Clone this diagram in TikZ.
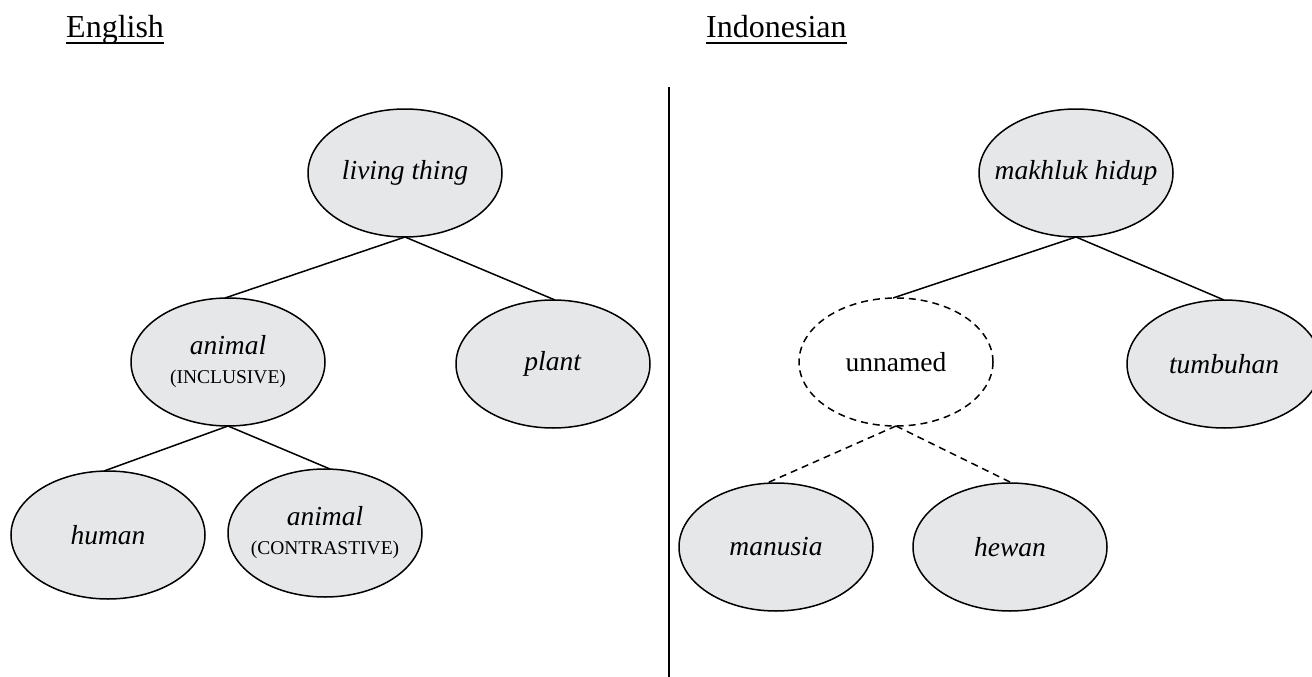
\documentclass[tikz,border=0pt]{standalone}
\usepackage{fontspec}
\setmainfont{Liberation Serif}
\usetikzlibrary{shapes.geometric}
\definecolor{ellfill}{RGB}{230,231,233}
\tikzset{
  concept/.style={ellipse, draw=black, line width=1.5pt, fill=ellfill,
    minimum width=194pt, minimum height=128pt, inner xsep=-25pt, inner ysep=0pt, outer sep=0pt,
    align=center, font=\fontsize{27.5}{29}\selectfont},
  hidden/.style={concept, fill=none, dash pattern=on 7pt off 5pt},
  link/.style={line width=1.5pt},
  dlink/.style={line width=1.5pt, dash pattern=on 7pt off 5pt},
  heading/.style={inner sep=0pt, anchor=base west, font=\fontsize{32}{36}\selectfont},
}
\newcommand{\smc}[1]{{\fontsize{19.5}{29}\selectfont #1}}
\begin{document}
\begin{tikzpicture}[x=1pt,y=-1pt]
\useasboundingbox (0,0) rectangle (1312,677);
% headings
\node[heading] (eng) at (66,38) {English};
\node[heading] (ind) at (706,38) {Indonesian};
\draw[line width=1.2pt] ([yshift=-5pt]eng.base west) -- ([yshift=-5pt]eng.base east);
\draw[line width=1.2pt] ([yshift=-5pt]ind.base west) -- ([yshift=-5pt]ind.base east);
% divider
\coordinate (dtop) at (669,87);
\coordinate (dbot) at (669,677);
\draw[line width=1.4pt] (dtop) -- (dbot);
% English tree
\node[concept] (lt) at (405,173) {\textit{living thing}};
\node[concept] (an) at (228,362) {\textit{animal}\\\smc{(INCLUSIVE)}};
\node[concept] (pl) at (553,364) {\textit{plant}};
\node[concept] (hu) at (108,535) {\textit{human}};
\node[concept] (ac) at (325,533) {\textit{animal}\\\smc{(CONTRASTIVE)}};
\draw[link] (lt.south) -- ([xshift=-3pt]an.north);
\draw[link] (lt.south) -- ([xshift=2pt]pl.north);
\draw[link] (an.south) -- ([xshift=-4pt]hu.north);
\draw[link] (an.south) -- ([xshift=5pt]ac.north);
% Indonesian tree
\node[concept] (mh) at (1076,173) {\textit{makhluk hidup}};
\node[hidden] (un) at (896,362) {unnamed};
\node[concept] (tu) at (1224,364) {\textit{tumbuhan}};
\node[concept] (ma) at (776,547) {\textit{manusia}};
\node[concept] (he) at (1010,547) {\textit{hewan}};
\draw[link] (mh.south) -- ([xshift=-3pt]un.north);
\draw[link] (mh.south) -- (tu.north);
\draw[dlink] (un.south) -- ([xshift=-9pt]ma.north);
\draw[dlink] (un.south) -- ([xshift=2pt]he.north);
\end{tikzpicture}
\end{document}
